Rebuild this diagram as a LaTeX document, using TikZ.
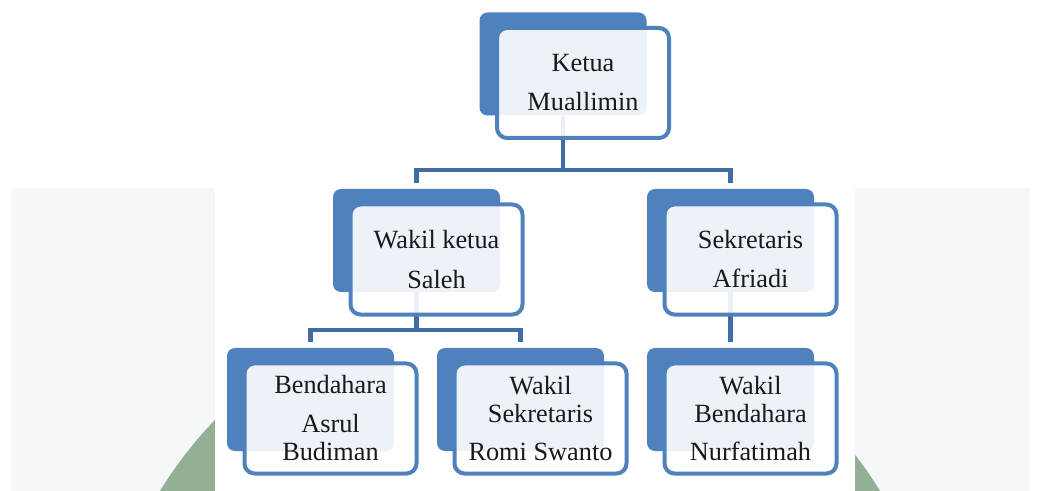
\documentclass[tikz,border=0pt]{standalone}
\usepackage{fontspec}
\setmainfont{Liberation Serif}

\definecolor{boxblue}{RGB}{79,129,189}
\definecolor{linkblue}{RGB}{64,109,164}
\definecolor{panelgrey}{RGB}{246,247,248}
\definecolor{leafgreen}{RGB}{147,176,150}

\tikzset{
  backbox/.style={fill=boxblue, rounded corners=8bp, minimum width=167bp, minimum height=103bp, inner sep=0pt},
  frontbox/.style={draw=boxblue, line width=4bp, fill=white, fill opacity=0.9, text opacity=1,
    rounded corners=10bp, minimum width=172bp, minimum height=110bp, inner sep=0pt, align=center,
    font=\fontsize{26.3bp}{28bp}\selectfont, text=black!90, xshift=20bp, yshift=-19bp},
  link/.style={draw=linkblue, line width=4.5bp}
}

\begin{document}
\begin{tikzpicture}[x=1bp,y=-1bp]
\useasboundingbox (0,0) rectangle (1037,491);
% background
\fill[panelgrey] (11,188) rectangle (1030,491);
\begin{scope}
\clip (11,188) rectangle (1030,491);
\fill[leafgreen] (520,713) circle (423);
\end{scope}
\fill[white] (215,188) rectangle (855,491);
% back boxes
\node[backbox] (ketua) at (563,64) {};
\node[backbox] (wakil) at (416.5,240.5) {};
\node[backbox] (sekre) at (730.5,240.5) {};
\node[backbox] (benda) at (310.5,399.5) {};
\node[backbox] (wsekre) at (520.5,399.5) {};
\node[backbox] (wbenda) at (730.5,399.5) {};
% connectors
\coordinate (ketuabus) at (563,170);
\coordinate (wakilbus) at (416.5,330);
\draw[link] (ketua.south) -- (ketuabus);
\draw[link] ([yshift=6bp]wakil.north) |- (ketuabus) -| ([yshift=6bp]sekre.north);
\draw[link] (wakil.south) -- (wakilbus);
\draw[link] ([yshift=6bp]benda.north) |- (wakilbus) -| ([yshift=6bp]wsekre.north);
\draw[link] (sekre.south) -- ([yshift=6bp]wbenda.north);
% front boxes
\node[frontbox] (ketuaf) at (ketua) {Ketua\\[11bp]Muallimin};
\node[frontbox] (wakilf) at (wakil) {Wakil ketua\\[12bp]Saleh};
\node[frontbox] (sekref) at (sekre) {Sekretaris\\[11bp]Afriadi};
\node[frontbox] (bendaf) at (benda) {Bendahara\\[11bp]Asrul\\Budiman};
\node[frontbox] (wsekref) at (wsekre) {Wakil\\Sekretaris\\[10bp]Romi Swanto};
\node[frontbox] (wbendaf) at (wbenda) {Wakil\\Bendahara\\[10bp]Nurfatimah};
\end{tikzpicture}
\end{document}
